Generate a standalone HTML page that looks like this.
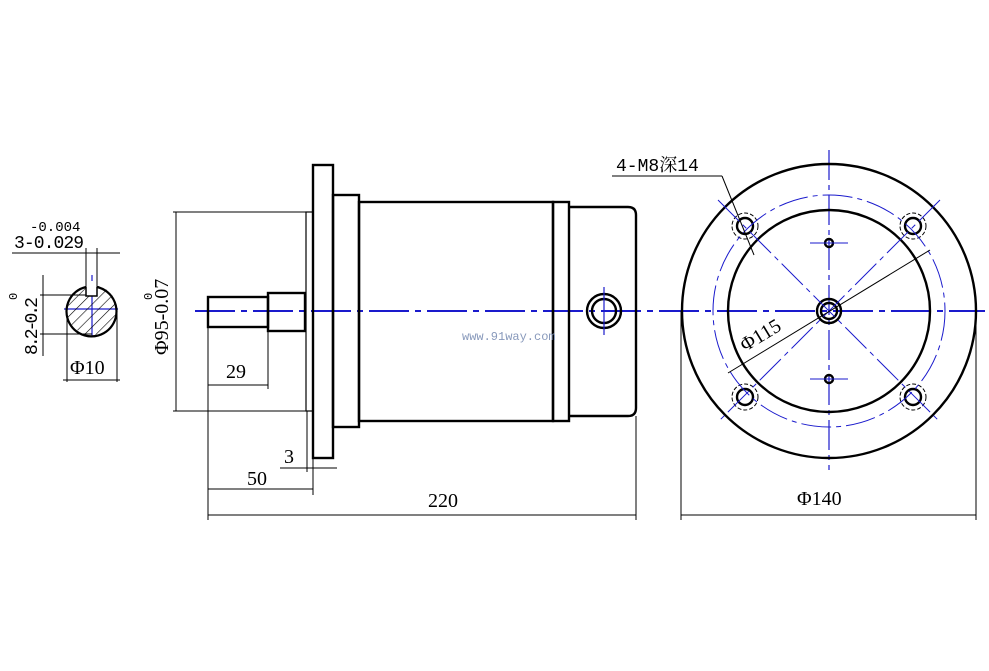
<!DOCTYPE html>
<html><head><meta charset="utf-8"><style>
html,body{margin:0;padding:0;background:#fff;}
svg{display:block;}
text{fill:#000;}
.s{font-family:"Liberation Serif","Noto Serif CJK SC",serif;}
.m{font-family:"Liberation Mono","Noto Serif CJK SC",monospace;}
</style></head><body>
<svg width="989" height="671" viewBox="0 0 989 671" xmlns="http://www.w3.org/2000/svg">
<defs>
<pattern id="h" width="8" height="8" patternUnits="userSpaceOnUse" patternTransform="rotate(45)">
<line x1="0" y1="0" x2="0" y2="8" stroke="#000" stroke-width="1.2"/></pattern>
<clipPath id="kc"><circle cx="92" cy="310" r="25"/></clipPath>
</defs>
<rect width="989" height="671" fill="#fff"/>

<g stroke="#1a1acc" stroke-width="2" fill="none">
<line x1="195" y1="311" x2="985" y2="311" stroke-dasharray="40,6,6,6"/>
<line x1="829" y1="150" x2="829" y2="470" stroke-width="1.2" stroke-dasharray="30,5,5,5"/>
<line x1="92" y1="275" x2="92" y2="336" stroke-width="1.2"/>
<line x1="64" y1="309" x2="118" y2="309" stroke-width="1.2"/>
</g>

<g clip-path="url(#kc)">
<rect x="60" y="280" width="70" height="60" fill="url(#h)"/>
</g>
<rect x="86" y="281" width="11" height="15" fill="#fff" stroke="none"/>
<path d="M86,287 A25,25 0 1 0 97,287" fill="none" stroke="#000" stroke-width="2.2"/>
<path d="M86,287 L86,296 L97,296 L97,287" fill="none" stroke="#000" stroke-width="1.5"/>
<g stroke="#000" stroke-width="1" fill="none">
<line x1="86" y1="248" x2="86" y2="290"/><line x1="97" y1="248" x2="97" y2="287"/>
<line x1="12" y1="253" x2="120" y2="253"/>
<line x1="43" y1="275" x2="43" y2="356"/>
<line x1="40" y1="295" x2="86" y2="295"/>
<line x1="40" y1="334" x2="92" y2="334"/>
<line x1="67" y1="310" x2="67" y2="382"/><line x1="117" y1="310" x2="117" y2="382"/>
<line x1="63" y1="380" x2="120" y2="380"/>
</g>
<text class="m" x="30" y="231" font-size="14">-0.004</text>
<text class="m" x="14" y="248" font-size="18" textLength="70">3-0.029</text>
<text class="m" transform="translate(37,355) rotate(-90)" font-size="18" textLength="58">8.2-0.2</text>
<text class="m" transform="translate(17,300) rotate(-90)" font-size="12">0</text>
<text class="s" x="70" y="374" font-size="20">Φ10</text>

<g stroke="#000" stroke-width="2.4" fill="none">
<rect x="208" y="297" width="60" height="30"/>
<rect x="268" y="293" width="37" height="38"/>
<rect x="313" y="165" width="20" height="293"/>
<rect x="333" y="195" width="26" height="232"/>
<rect x="359" y="202" width="194" height="219"/>
<rect x="553" y="202" width="16" height="219"/>
<path d="M569,207 L628,207 Q636,207 636,215 L636,408 Q636,416 628,416 L569,416"/>
<circle cx="604" cy="311" r="17"/>
<circle cx="604" cy="311" r="12"/>
</g>
<line x1="604" y1="287" x2="604" y2="335" stroke="#1a1acc" stroke-width="1.2"/>
<rect x="306" y="212" width="7" height="199" fill="none" stroke="#000" stroke-width="1.2"/>
<text class="m" x="462" y="340" font-size="12" style="fill:#8899bb">www.91way.com</text>

<g stroke="#000" stroke-width="1" fill="none">
<line x1="173" y1="212" x2="306" y2="212"/><line x1="173" y1="411" x2="306" y2="411"/>
<line x1="176" y1="212" x2="176" y2="411"/>
<line x1="208" y1="327" x2="208" y2="520"/>
<line x1="268" y1="331" x2="268" y2="389"/>
<line x1="208" y1="385" x2="268" y2="385"/>
<line x1="307" y1="411" x2="307" y2="472"/>
<line x1="313" y1="458" x2="313" y2="495"/>
<line x1="280" y1="468" x2="337" y2="468"/>
<line x1="208" y1="489" x2="313" y2="489"/>
<line x1="636" y1="416" x2="636" y2="520"/>
<line x1="208" y1="515" x2="636" y2="515"/>
</g>
<text class="s" transform="translate(168,355) rotate(-90)" font-size="20">Φ95-0.07</text>
<text class="m" transform="translate(152,300) rotate(-90)" font-size="12">0</text>
<text class="s" x="226" y="378" font-size="20">29</text>
<text class="s" x="284" y="463" font-size="20">3</text>
<text class="s" x="247" y="485" font-size="20">50</text>
<text class="s" x="428" y="507" font-size="20">220</text>

<g stroke="#000" stroke-width="2.4" fill="none">
<circle cx="829" cy="311" r="147"/>
<circle cx="829" cy="311" r="101"/>
<circle cx="829" cy="311" r="12"/>
<circle cx="829" cy="311" r="8"/>
<circle cx="745" cy="226" r="8"/><circle cx="913" cy="226" r="8"/>
<circle cx="745" cy="397" r="8"/><circle cx="913" cy="397" r="8"/>
<circle cx="829" cy="243" r="4"/><circle cx="829" cy="379" r="4"/>
</g>
<g stroke="#000" stroke-width="1" fill="none" stroke-dasharray="4,2">
<circle cx="745" cy="226" r="13"/><circle cx="913" cy="226" r="13"/>
<circle cx="745" cy="397" r="13"/><circle cx="913" cy="397" r="13"/>
</g>
<g stroke="#1a1acc" stroke-width="1" fill="none">
<circle cx="829" cy="311" r="116" stroke-dasharray="30,5,5,5"/>
<line x1="718" y1="200" x2="940" y2="422" stroke-dasharray="30,5,5,5"/>
<line x1="940" y1="200" x2="718" y2="422" stroke-dasharray="30,5,5,5"/>
<line x1="810" y1="243" x2="848" y2="243"/><line x1="810" y1="379" x2="848" y2="379"/>
</g>
<g stroke="#000" stroke-width="1" fill="none">
<line x1="728" y1="373" x2="930" y2="250"/>
<line x1="612" y1="176" x2="722" y2="176"/>
<line x1="722" y1="176" x2="754" y2="255"/>
<line x1="681" y1="311" x2="681" y2="520"/>
<line x1="976" y1="311" x2="976" y2="520"/>
<line x1="681" y1="515" x2="976" y2="515"/>
</g>
<text class="s" transform="translate(745,352) rotate(-31)" font-size="20">Φ115</text>
<text class="m" x="616" y="171" font-size="18">4-M8深14</text>
<text class="s" x="797" y="505" font-size="20">Φ140</text>
</svg>
</body></html>
